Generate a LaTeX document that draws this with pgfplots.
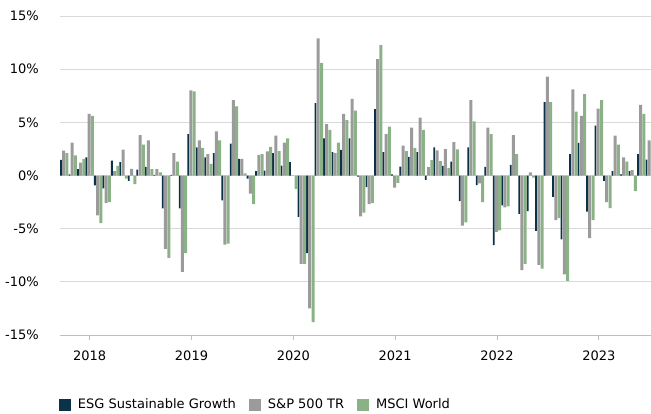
\documentclass[border=0pt]{standalone}
\usepackage{fontspec}
\setmainfont{DejaVu Sans}
\usepackage{pgfplots}
\usepackage{pgfplotstable}
\pgfplotsset{compat=1.18}
\definecolor{esgc}{RGB}{12,50,72}
\definecolor{spc}{RGB}{155,155,155}
\definecolor{msc}{RGB}{139,178,135}
\definecolor{gridc}{RGB}{217,217,217}
\definecolor{axc}{RGB}{191,191,191}
\pgfplotsset{sqleg/.style={legend image code/.code={\fill[##1] (0bp,-6bp) rectangle (12bp,6bp);}}}
\pgfplotstableread{
k esg sp msci
0 1.47 2.34 2.10
1 0.10 3.10 1.90
2 0.60 1.20 1.56
3 1.70 5.80 5.60
4 -0.94 -3.75 -4.47
5 -1.20 -2.60 -2.50
6 1.40 0.40 0.90
7 1.25 2.44 -0.30
8 -0.50 0.63 -0.80
9 0.56 3.80 2.90
10 0.80 3.30 0.60
11 0.05 0.60 0.30
12 -3.10 -6.90 -7.75
13 0.05 2.10 1.30
14 -3.10 -9.06 -7.30
15 3.90 8.00 7.90
16 2.65 3.30 2.60
17 1.70 2.00 1.10
18 2.10 4.15 3.30
19 -2.35 -6.50 -6.40
20 3.00 7.10 6.50
21 1.56 1.56 0.20
22 -0.30 -1.70 -2.70
23 0.40 1.94 2.00
24 0.47 2.28 2.70
25 2.10 3.75 2.30
26 0.94 3.10 3.50
27 1.25 -0.04 -1.25
28 -3.90 -8.30 -8.30
29 -7.30 -12.50 -13.80
30 6.80 12.90 10.60
31 3.50 4.84 4.30
32 2.20 2.10 3.10
33 2.40 5.80 5.20
34 3.50 7.20 6.10
35 -0.10 -3.85 -3.50
36 -1.10 -2.70 -2.60
37 6.25 10.95 12.25
38 2.20 3.90 4.60
39 0.10 -1.15 -0.70
40 0.84 2.80 2.30
41 1.75 4.50 2.60
42 2.20 5.45 4.30
43 -0.40 0.78 1.45
44 2.65 2.37 1.35
45 0.90 2.48 0.70
46 1.30 3.15 2.45
47 -2.40 -4.72 -4.40
48 2.65 7.10 5.10
49 -0.90 -0.75 -2.50
50 0.80 4.50 3.90
51 -6.55 -5.30 -5.15
52 -2.80 -3.00 -2.90
53 1.00 3.80 2.00
54 -3.60 -8.90 -8.30
55 -3.35 0.30 -0.20
56 -5.20 -8.40 -8.75
57 6.90 9.30 6.90
58 -2.00 -4.20 -4.00
59 -6.00 -9.30 -9.90
60 2.00 8.10 6.00
61 3.06 5.60 7.65
62 -3.40 -5.90 -4.20
63 4.70 6.30 7.10
64 -0.50 -2.50 -3.06
65 0.40 3.75 2.90
66 0.10 1.70 1.30
67 0.40 0.50 -1.47
68 2.00 6.65 5.80
69 1.50 3.30 3.00
}\datatable
\begin{document}
\fontsize{13bp}{15bp}\selectfont
\begin{tikzpicture}
\path[use as bounding box] (0,0) rectangle (651bp,414bp);
\begin{axis}[
  at={(60bp,79bp)}, anchor=south west,
  scale only axis, width=591bp, height=319bp,
  xmin=-0.5, xmax=69.15, ymin=-15, ymax=15,
  ytick={-15,-10,...,15},
  yticklabels={-15\%,-10\%,-5\%,0\%,5\%,10\%,15\%},
  xtick={3,15,27,39,51,63},
  xticklabels={2018,2019,2020,2021,2022,2023},
  axis x line*=bottom, axis y line*=left,
  x axis line style={draw=axc, line width=1bp, -},
  y axis line style={draw=none},
  ytick style={draw=none},
  xtick style={draw=axc, line width=1bp},
  tick align=outside, major tick length=5bp,
  ymajorgrids, grid style={gridc, line width=1bp},
  yticklabel style={anchor=east, inner sep=0pt, xshift=-16bp},
  xticklabel style={anchor=north, inner sep=0pt, yshift=-11bp},
  legend columns=-1,
  legend style={draw=none, fill=none, inner sep=0pt, outer sep=0pt,
    at={(0,0)}, anchor=west, xshift=-1bp, yshift=-70bp,
    nodes={inner sep=0pt},
    /tikz/every odd column/.append style={column sep=7bp},
    /tikz/every even column/.append style={column sep=13bp}},
]
\addplot[ybar, bar width=1.8bp, bar shift=-3.3bp, fill=esgc, draw=none, sqleg] table[x=k, y=esg] {\datatable};
\addplot[ybar, bar width=3.0bp, bar shift=-0.6bp, fill=spc, draw=none, sqleg] table[x=k, y=sp] {\datatable};
\addplot[ybar, bar width=3.0bp, bar shift=2.7bp, fill=msc, draw=none, sqleg] table[x=k, y=msci] {\datatable};
\legend{ESG Sustainable Growth, S\&P 500 TR, MSCI World}
\end{axis}
\end{tikzpicture}
\end{document}
